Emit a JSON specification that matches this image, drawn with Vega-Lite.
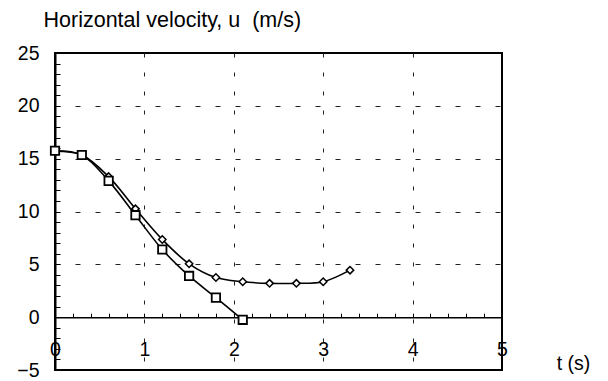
{
  "$schema": "https://vega.github.io/schema/vega-lite/v6.json",
  "width": 447,
  "height": 317,
  "autosize": {"type": "none"},
  "padding": {"left": 55, "top": 53, "right": 106, "bottom": 11},
  "background": "white",
  "config": {
    "view": {"stroke": "black", "strokeWidth": 2},
    "font": "Liberation Sans",
    "axis": {
      "labelFont": "Liberation Sans",
      "titleFont": "Liberation Sans",
      "labelColor": "black",
      "titleColor": "black",
      "titleFontWeight": "normal",
      "labelFontSize": 19.5,
      "titleFontSize": 19.5,
      "tickColor": "black",
      "domainColor": "black",
      "gridColor": "#222",
      "gridWidth": 1
    }
  },
  "data": {
    "values": [
      {"series": "diamond", "t": 0.0, "u": 15.7},
      {"series": "diamond", "t": 0.3, "u": 15.35},
      {"series": "diamond", "t": 0.6, "u": 13.3},
      {"series": "diamond", "t": 0.9, "u": 10.25},
      {"series": "diamond", "t": 1.2, "u": 7.35},
      {"series": "diamond", "t": 1.5, "u": 5.05},
      {"series": "diamond", "t": 1.8, "u": 3.75},
      {"series": "diamond", "t": 2.1, "u": 3.35},
      {"series": "diamond", "t": 2.4, "u": 3.2},
      {"series": "diamond", "t": 2.7, "u": 3.2},
      {"series": "diamond", "t": 3.0, "u": 3.35},
      {"series": "diamond", "t": 3.3, "u": 4.45},
      {"series": "square", "t": 0.0, "u": 15.75},
      {"series": "square", "t": 0.3, "u": 15.35},
      {"series": "square", "t": 0.6, "u": 12.9},
      {"series": "square", "t": 0.9, "u": 9.65},
      {"series": "square", "t": 1.2, "u": 6.4},
      {"series": "square", "t": 1.5, "u": 3.9},
      {"series": "square", "t": 1.8, "u": 1.85},
      {"series": "square", "t": 2.1, "u": -0.25}
    ]
  },
  "encoding": {
    "x": {
      "field": "t",
      "type": "quantitative",
      "scale": {"domain": [0, 5], "nice": false, "zero": false},
      "axis": {
        "orient": "bottom",
        "offset": -52.83,
        "values": [0, 0.2, 0.4, 0.6, 0.8, 1, 1.2, 1.4, 1.6, 1.8, 2, 2.2, 2.4, 2.6, 2.8, 3, 3.2, 3.4, 3.6, 3.8, 4, 4.2, 4.4, 4.6, 4.8, 5],
        "labelExpr": "datum.value % 1 === 0 ? format(datum.value, 'd') : ''",
        "labelBaseline": "middle",
        "labelPadding": 36,
        "labelFlush": false,
        "labelOverlap": false,
        "tickSize": -4,
        "tickWidth": 1,
        "domainWidth": 1.5,
        "grid": true,
        "gridDash": [4, 15],
        "gridOpacity": {"condition": {"test": "datum.value % 1 === 0 && datum.value > 0 && datum.value < 5", "value": 1}, "value": 0},
        "title": "t (s)",
        "titleAngle": 0,
        "titleAlign": "center",
        "titleBaseline": "middle",
        "titleX": 518,
        "titleY": 46,
        "titlePadding": 0
      }
    },
    "y": {
      "field": "u",
      "type": "quantitative",
      "scale": {"domain": [-5, 25], "nice": false, "zero": false},
      "axis": {
        "orient": "left",
        "values": [-5, -4, -3, -2, -1, 0, 1, 2, 3, 4, 5, 6, 7, 8, 9, 10, 11, 12, 13, 14, 15, 16, 17, 18, 19, 20, 21, 22, 23, 24, 25],
        "labelExpr": "datum.value % 5 === 0 ? datum.label : ''",
        "labelBaseline": "middle",
        "labelPadding": 21,
        "labelFlush": false,
        "labelOverlap": false,
        "tickSize": -5,
        "tickWidth": 1,
        "domainWidth": 2,
        "grid": true,
        "gridDash": [5, 15],
        "gridOpacity": {"condition": {"test": "datum.value % 5 === 0 && datum.value > 0 && datum.value < 25", "value": 1}, "value": 0},
        "title": "Horizontal velocity, u\u00a0\u00a0(m/s)",
        "titleAngle": 0,
        "titleAlign": "left",
        "titleBaseline": "alphabetic",
        "titleFontSize": 21.5,
        "titleX": -12,
        "titleY": -27
      }
    }
  },
  "layer": [
    {
      "transform": [{"filter": "datum.series === 'diamond'"}],
      "mark": {"type": "line", "color": "black", "strokeWidth": 1.6, "interpolate": "catmull-rom"},
      "encoding": {}
    },
    {
      "transform": [{"filter": "datum.series === 'diamond'"}],
      "mark": {"type": "point", "shape": "diamond", "size": 55, "filled": true, "fill": "white", "stroke": "black", "strokeWidth": 1.5, "opacity": 1},
      "encoding": {}
    },
    {
      "transform": [{"filter": "datum.series === 'square'"}],
      "mark": {"type": "line", "color": "black", "strokeWidth": 1.6, "interpolate": "catmull-rom"},
      "encoding": {}
    },
    {
      "transform": [{"filter": "datum.series === 'square'"}],
      "mark": {"type": "point", "shape": "square", "size": 70, "filled": true, "fill": "white", "stroke": "black", "strokeWidth": 1.8, "opacity": 1},
      "encoding": {}
    }
  ]
}
